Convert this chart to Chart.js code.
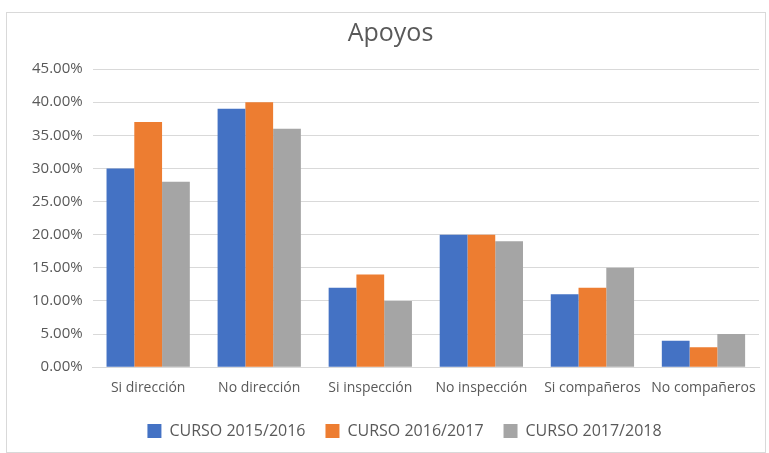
<!DOCTYPE html>
<html>
<head>
<meta charset="utf-8">
<script src="https://cdn.jsdelivr.net/npm/chart.js@4"></script>
<style>
  body { margin: 0; background: #fff; }
  #frame {
    position: absolute; left: 6px; top: 12px; width: 760px; height: 441px;
    border: 1px solid #d9d9d9; box-sizing: border-box;
  }
</style>
</head>
<body>
<div id="frame"><canvas id="apoyosChart"></canvas></div>
<script>
const categories = ["Si dirección", "No dirección", "Si inspección", "No inspección", "Si compañeros", "No compañeros"];
const seriesNames = ["CURSO 2015/2016", "CURSO 2016/2017", "CURSO 2017/2018"];
const curso1516 = [30, 39, 12, 20, 11, 4];
const curso1617 = [37, 40, 14, 20, 12, 3];
const curso1718 = [28, 36, 10, 19, 15, 5];
const colors = ["#4472C4", "#ED7D31", "#A5A5A5"];

const font = "'Open Sans', 'Noto Sans', sans-serif";
const ctx = document.getElementById("apoyosChart").getContext("2d");

// nudge the legend a bit right/down, like in the original
const legendShift = {
  id: "legendShift",
  afterLayout(chart) {
    chart.legend.left += 14;
    chart.legend.right += 14;
    chart.legend.top += 3;
    chart.legend.bottom += 3;
  },
};

new Chart(ctx, {
  type: "bar",
  data: {
    labels: categories,
    datasets: [curso1516, curso1617, curso1718].map((vals, i) => ({
      label: seriesNames[i],
      data: vals,
      backgroundColor: colors[i],
      categoryPercentage: 0.75,
      barPercentage: 1.0,
    })),
  },
  options: {
    responsive: true,
    maintainAspectRatio: false,
    animation: false,
    layout: { padding: { left: 15, right: 6, top: 0, bottom: 6 } },
    plugins: {
      title: {
        display: true,
        text: "Apoyos",
        color: "#595959",
        font: { family: font, size: 25, weight: "normal" },
        padding: { top: 6, bottom: 20 },
      },
      legend: {
        position: "bottom",
        labels: {
          color: "#595959",
          font: { family: font, size: 16 },
          boxWidth: 14,
          boxHeight: 14,
          padding: 20,
        },
      },
      tooltip: { enabled: false },
    },
    scales: {
      x: {
        grid: { display: false },
        border: { color: "#d9d9d9" },
        ticks: {
          color: "#595959",
          font: { family: font, size: 14 },
          padding: 4,
          minRotation: 0,
          maxRotation: 0,
          autoSkip: false,
        },
      },
      y: {
        min: 0,
        max: 45,
        ticks: {
          stepSize: 5,
          color: "#595959",
          font: { family: font, size: 15 },
          padding: 10,
          callback: (v) => v.toFixed(2) + "%",
        },
        grid: { color: "#d9d9d9", drawTicks: false },
        border: { display: false },
      },
    },
  },
  plugins: [legendShift],
});
</script>
</body>
</html>
